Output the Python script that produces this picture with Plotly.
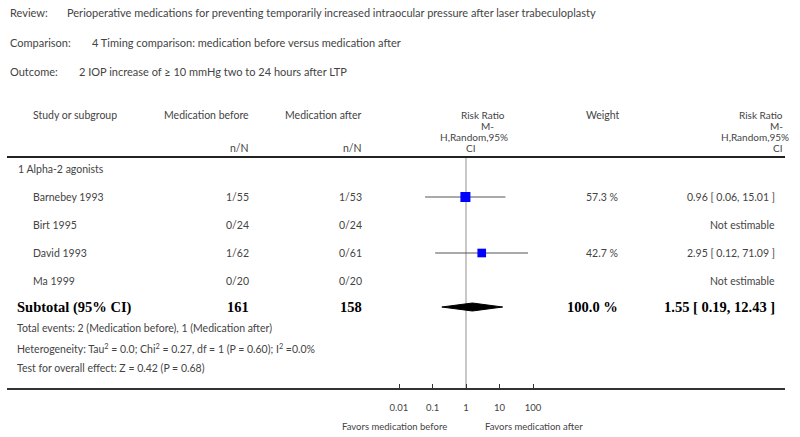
import plotly.graph_objects as go
import math

# ---------------- data ----------------
review = "Perioperative medications for preventing temporarily increased intraocular pressure after laser trabeculoplasty"
comparison = "4 Timing comparison: medication before versus medication after"
outcome = "2 IOP increase of ≥ 10 mmHg two to 24 hours after LTP"

subgroup = "1 Alpha-2 agonists"
studies = ["Barnebey 1993", "Birt 1995", "David 1993", "Ma 1999"]
med_before = ["1/55", "0/24", "1/62", "0/20"]
med_after = ["1/53", "0/24", "0/61", "0/20"]
rr = [0.96, None, 2.95, None]
rr_lo = [0.06, None, 0.12, None]
rr_hi = [15.01, None, 71.09, None]
weights = [57.3, None, 42.7, None]

sub_before = 161
sub_after = 158
sub_weight = 100.0
sub_rr, sub_lo, sub_hi = 1.55, 0.19, 12.43

total_events = "Total events: 2 (Medication before), 1 (Medication after)"
heterogeneity = "Heterogeneity: Tau<sup>2</sup> = 0.0; Chi<sup>2</sup> = 0.27, df = 1 (P = 0.60); I<sup>2</sup> =0.0%"
overall = "Test for overall effect: Z = 0.42 (P = 0.68)"

tick_vals = [0.01, 0.1, 1, 10, 100]
tick_text = ["0.01", "0.1", "1", "10", "100"]
favors_left = "Favors medication before"
favors_right = "Favors medication after"

# ---------------- layout helpers ----------------
W, H = 800, 437
FONT = "Lato"
SERIF = "Liberation Serif"
TXT = "#444444"
PX_PER_DEC = 33.5
X_ONE = 466
AX_L, AX_R = 7, 785
AX_Y = 389
HDR_Y = 157
row_y0, row_dy = 197, 28
row_ys = [row_y0 + i * row_dy for i in range(len(studies))]
sub_y = 307

fig = go.Figure()

# reference line at RR = 1
fig.add_trace(go.Scatter(x=[1, 1], y=[HDR_Y, AX_Y], mode="lines",
                         line=dict(color="#c8c8c8", width=2), hoverinfo="skip", showlegend=False))

# CI lines and squares
for y, r, lo, hi, w in zip(row_ys, rr, rr_lo, rr_hi, weights):
    if r is None:
        continue
    fig.add_trace(go.Scatter(x=[lo, hi], y=[y, y], mode="lines",
                             line=dict(color="#555555", width=1), showlegend=False, hoverinfo="skip"))
    fig.add_trace(go.Scatter(x=[r], y=[y], mode="markers",
                             marker=dict(symbol="square", color="#0000ff", size=10 * math.sqrt(w / 57.3),
                                         line=dict(width=0)),
                             showlegend=False))

# diamond
fig.add_trace(go.Scatter(x=[sub_lo, sub_rr, sub_hi, sub_rr, sub_lo],
                         y=[sub_y, sub_y - 4, sub_y, sub_y + 4, sub_y],
                         mode="lines", fill="toself", fillcolor="black",
                         line=dict(color="black", width=1), showlegend=False, hoverinfo="skip"))

ann = []


def T(x, y, text, anchor="left", size=10.5, family=FONT, color=TXT):
    ann.append(dict(x=x / W, y=y, xref="paper", yref="y", text=text, showarrow=False,
                    xanchor=anchor, yanchor="middle", font=dict(family=family, size=size, color=color)))


# header titles
T(8, 12, "Review:", size=11)
T(65, 12, review, size=11)
T(8, 42, "Comparison:", size=11)
T(90, 42, comparison, size=11)
T(8, 71, "Outcome:", size=11)
T(77, 71, outcome, size=11)

# column headers
T(31, 115, "Study or subgroup")
T(251, 115, "Medication before", "right")
T(364, 115, "Medication after", "right")
T(251, 148, "n/N", "right")
T(364, 148, "n/N", "right")
HS = 10
T(507, 115, "Risk Ratio", "right", size=HS)
T(496, 126, "M-", "right", size=HS)
T(510, 137, "H,Random,95%", "right", size=HS)
T(477, 148, "CI", "right", size=HS)
T(622, 115, "Weight", "right")
T(785, 115, "Risk Ratio", "right", size=HS)
T(785, 126, "M-", "right", size=HS)
T(791, 137, "H,Random,95%", "right", size=HS)
T(784, 148, "CI", "right", size=HS)

# rows
T(16, 169, subgroup)
for y, s, b, a, r, lo, hi, w in zip(row_ys, studies, med_before, med_after, rr, rr_lo, rr_hi, weights):
    T(31, y, s)
    T(251, y, b, "right")
    T(364, y, a, "right")
    if r is None:
        T(777, y, "Not estimable", "right")
    else:
        T(620, y, f"{w:.1f} %", "right")
        T(777, y, f"{r:.2f} [ {lo:.2f}, {hi:.2f} ]", "right")

# subtotal
T(15, sub_y, "<b>Subtotal (95% CI)</b>", size=14.5, family=SERIF, color="#000")
T(251, sub_y, f"<b>{sub_before}</b>", "right", size=14.5, family=SERIF, color="#000")
T(364, sub_y, f"<b>{sub_after}</b>", "right", size=14.5, family=SERIF, color="#000")
T(620, sub_y, f"<b>{sub_weight:.1f} %</b>", "right", size=14.5, family=SERIF, color="#000")
T(777, sub_y, f"<b>{sub_rr:.2f} [ {sub_lo:.2f}, {sub_hi:.2f} ]</b>", "right", size=14.5, family=SERIF, color="#000")

T(15, 328, total_events)
T(15, 348, heterogeneity)
T(15, 368, overall)

T(449, 426, favors_left, "right", size=9.5)
T(483, 426, favors_right, "left", size=9.5)

# axis range so that RR=1 sits at X_ONE with PX_PER_DEC per decade
x_lo = (AX_L - X_ONE) / PX_PER_DEC
x_hi = (AX_R - X_ONE) / PX_PER_DEC

fig.update_layout(
    width=W, height=H,
    margin=dict(l=0, r=0, t=0, b=0),
    paper_bgcolor="white", plot_bgcolor="white",
    annotations=ann,
    shapes=[dict(type="line", xref="paper", yref="y", x0=AX_L / W, x1=AX_R / W, y0=HDR_Y, y1=HDR_Y,
                 line=dict(color="#222222", width=2))],
    xaxis=dict(type="log", domain=[AX_L / W, AX_R / W], range=[x_lo, x_hi],
               anchor="free", position=(H - AX_Y) / H,
               showline=True, linecolor="#333333", linewidth=1.5,
               showgrid=False, zeroline=False,
               tickmode="array", tickvals=tick_vals, ticktext=tick_text,
               ticks="inside", ticklen=4, tickcolor="#333333", tickwidth=1,
               ticklabelstandoff=10,
               tickfont=dict(family=FONT, size=9.5, color=TXT)),
    yaxis=dict(range=[H, 0], domain=[0, 1], visible=False, showgrid=False, zeroline=False),
    showlegend=False,
)

fig.write_html("out.html", config={"displayModeBar": False},
               post_script="document.body.style.margin='0px';document.body.style.overflow='hidden';")
